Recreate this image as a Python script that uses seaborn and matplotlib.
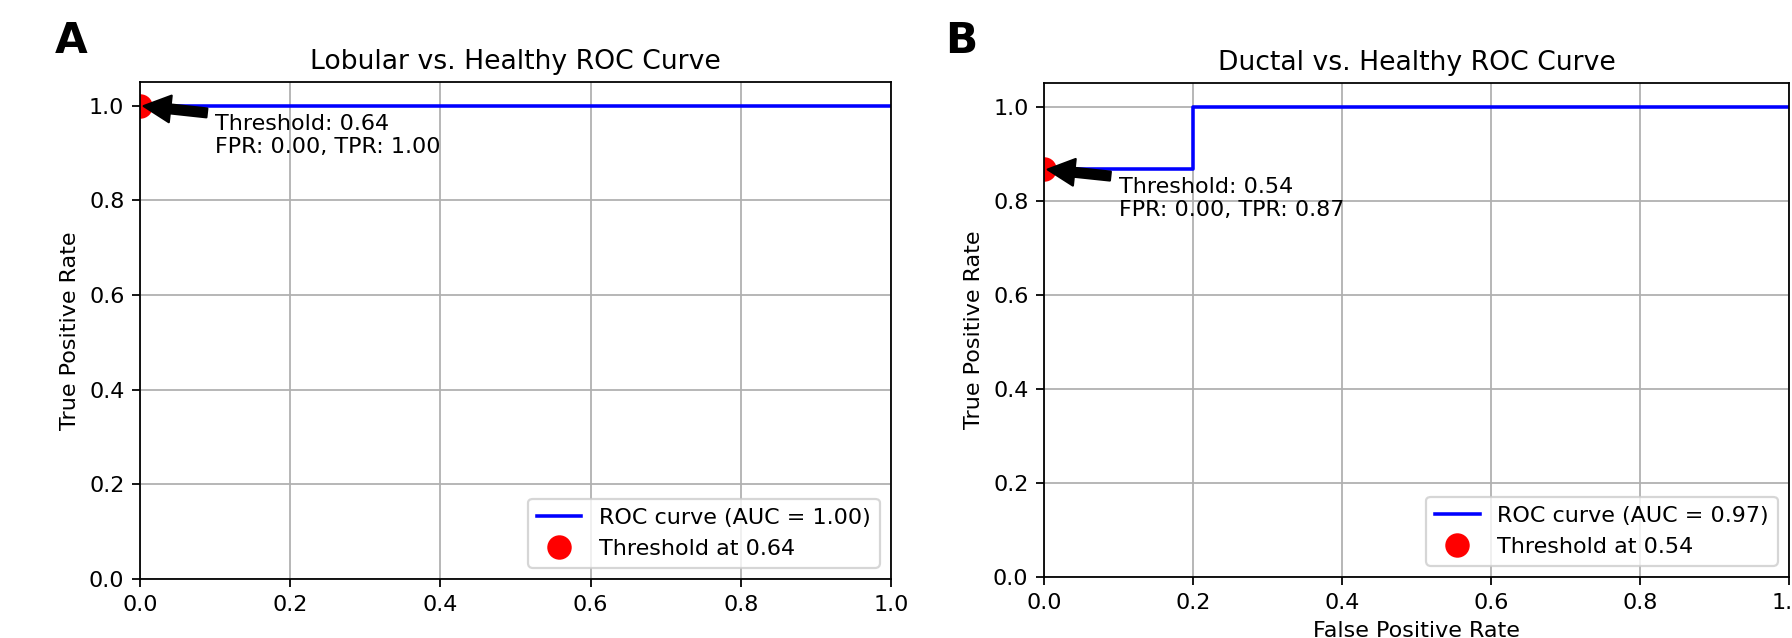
import matplotlib
matplotlib.use("Agg")
import matplotlib.pyplot as plt
import seaborn as sns

# ROC data
lobular_fpr = [0.0, 1.0]
lobular_tpr = [1.0, 1.0]
lobular_auc = 1.00
lobular_threshold = 0.64
lobular_point = (0.0, 1.0)

ductal_fpr = [0.0, 0.2, 0.2, 1.0]
ductal_tpr = [0.867, 0.867, 1.0, 1.0]
ductal_auc = 0.97
ductal_threshold = 0.54
ductal_point = (0.0, 0.867)

panel_titles = ["Lobular vs. Healthy ROC Curve", "Ductal vs. Healthy ROC Curve"]
panel_letters = ["A", "B"]

fig = plt.figure(figsize=(11.2, 3.9875), dpi=160)
ax_a = fig.add_axes([0.0781, 0.0925, 0.4191, 0.779])
ax_b = fig.add_axes([0.5826, 0.0956, 0.4157, 0.7743])


def draw_roc(ax, fpr, tpr, roc_auc, thr, point, title, xlabel=True):
    sns.lineplot(x=fpr, y=tpr, ax=ax, sort=False, estimator=None, color="blue",
                 lw=1.6, label=f"ROC curve (AUC = {roc_auc:.2f})")
    ax.plot([point[0]], [point[1]], "o", color="red", markersize=10,
            label=f"Threshold at {thr:.2f}")
    ax.annotate(f"Threshold: {thr:.2f}\nFPR: {point[0]:.2f}, TPR: {point[1]:.2f}",
                xy=point, xytext=(point[0] + 0.1, point[1] - 0.1),
                arrowprops=dict(facecolor="black", shrink=0.05))
    ax.set_xlim(0.0, 1.0)
    ax.set_ylim(0.0, 1.05)
    if xlabel:
        ax.set_xlabel("False Positive Rate")
    ax.set_ylabel("True Positive Rate")
    ax.set_title(title)
    ax.legend(loc="lower right")
    ax.grid(True)


draw_roc(ax_a, lobular_fpr, lobular_tpr, lobular_auc, lobular_threshold,
         lobular_point, panel_titles[0], xlabel=False)
draw_roc(ax_b, ductal_fpr, ductal_tpr, ductal_auc, ductal_threshold,
         ductal_point, panel_titles[1])

fig.text(55 / 1792, 1 - 53 / 638, panel_letters[0], fontsize=19, fontweight="bold")
fig.text(945 / 1792, 1 - 53 / 638, panel_letters[1], fontsize=19, fontweight="bold")

fig.savefig("out.png", dpi=160)
